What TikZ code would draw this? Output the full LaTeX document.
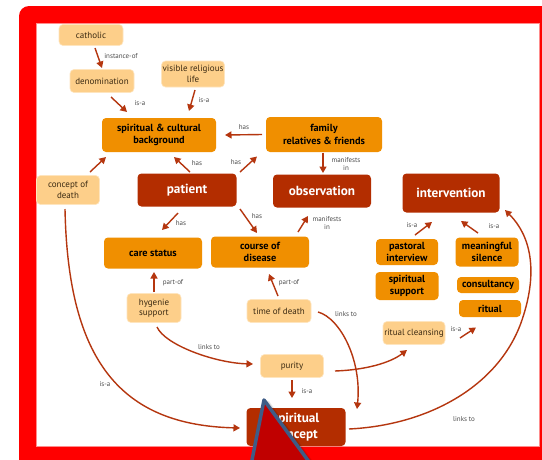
\documentclass[tikz,border=0pt]{standalone}
\usepackage{fontspec}
\setmainfont{PT Sans}
\usetikzlibrary{arrows.meta}

\definecolor{framered}{HTML}{FF0000}
\definecolor{pale}{HTML}{FDCF8A}
\definecolor{mid}{HTML}{F08F00}
\definecolor{deep}{HTML}{B32D00}
\definecolor{wire}{HTML}{B5360F}
\definecolor{ink}{HTML}{3B2A12}
\definecolor{trifill}{HTML}{C00000}
\definecolor{triedge}{HTML}{3E5C86}

\tikzset{
  box/.style={rounded corners=4pt, inner sep=1pt, align=center},
  dims/.style 2 args={minimum width=#1pt, minimum height=#2pt},
  palebox/.style={box, fill=pale, draw=pale!55!white, line width=0.6pt, text=ink,
                  font=\fontsize{9}{10.5}\selectfont},
  midbox/.style={box, fill=mid, text=black, font=\fontsize{10.3}{12.5}\selectfont\bfseries},
  deepbox/.style={box, fill=deep, text=white, font=\fontsize{13.2}{16}\selectfont\bfseries},
  link/.style={draw=wire, line width=1.4pt, -{Triangle[length=6.5pt,width=7pt]}},
  lab/.style={text=black!70, font=\fontsize{7}{8.5}\selectfont, align=center, inner sep=0pt},
}

\begin{document}
\begin{tikzpicture}[x=1pt,y=-1pt]
\clip (0,0) rectangle (542,459);
\useasboundingbox (0,0) rectangle (542,459);

% frame around the map
\fill[white] (0,0) rectangle (542,459);
\fill[framered, rounded corners=10pt] (19,6) rectangle (600,520);
\fill[white] (36,23) rectangle (539,446);
\draw[framered!45!white, line width=0.5pt] (36,23) rectangle (539,446);

% concepts
\node[palebox, dims={64}{21}] (catholic) at (91,35) {catholic};
\node[palebox, dims={64}{23}] (denom) at (102,81) {denomination};
\node[palebox, dims={63}{26}] (visible) at (193,74) {visible religious\\life};
\node[midbox, dims={114}{34}] (bg) at (159,135) {spiritual \& cultural\\background};
\node[midbox, dims={116}{35}] (family) at (324,134.5) {family\\relatives \& friends};
\node[palebox, dims={63}{29}] (death) at (68,190) {concept of\\death};
\node[deepbox, dims={99}{33}] (patient) at (187,190) {patient};
\node[deepbox, dims={98}{33}] (obs) at (322,191) {observation};
\node[deepbox, dims={97}{39}] (interv) at (451,193) {intervention};
\node[midbox, dims={98}{31}] (care) at (153,253) {care status};
\node[midbox, dims={98}{31}] (course) at (260,252) {course of\\disease};
\node[midbox, dims={62}{26}] (pastoral) at (407,252) {pastoral\\interview};
\node[midbox, dims={63}{28}] (spsupport) at (407,286) {spiritual\\support};
\node[midbox, dims={63}{29}] (silence) at (487,252) {meaningful\\silence};
\node[midbox, dims={62}{16}] (consult) at (488,285) {consultancy};
\node[midbox, dims={62}{17}] (ritual) at (490,308.5) {ritual};
\node[palebox, dims={54}{29}] (hygiene) at (154,308) {hygenie\\support};
\node[palebox, dims={64}{23}] (tod) at (279,311) {time of death};
\node[palebox, dims={62}{23}] (cleansing) at (414,333) {ritual cleansing};
\node[palebox, dims={63}{23}] (purity) at (292,366) {purity};
\node[deepbox, dims={99}{38}] (spconcept) at (296,427) {spiritual\\concept};

% straight links
\draw[link] ([shift={(4,13)}]catholic.center) -- ([shift={(0,-13)}]denom.center)
  node[lab] at (121,56) {instance-of};
\draw[link] ([shift={(9,16)}]denom.center) -- ([shift={(-32,-23)}]bg.center)
  node[lab] at (140,103) {is-a};
\draw[link] ([shift={(2,16)}]visible.center) -- ([shift={(30,-24)}]bg.center)
  node[lab] at (204,100) {is-a};
\draw[link] ([shift={(-62,0)}]family.center) -- ([shift={(66,0)}]bg.center)
  node[lab] at (244,127) {has};
\draw[link] ([shift={(3,-18)}]patient.center) -- ([shift={(15,22)}]bg.center)
  node[lab] at (197,163) {has};
\draw[link] ([shift={(53,-18)}]patient.center) -- ([shift={(-67,22)}]family.center)
  node[lab] at (236,162) {has};
\draw[link] ([shift={(22,-18)}]death.center) -- ([shift={(-53,22)}]bg.center);
\draw[link] ([shift={(-1,18)}]family.center) -- ([shift={(1,-18)}]obs.center)
  node[lab] at (346,164) {manifests\\in};
\draw[link] ([shift={(-9,23)}]patient.center) -- ([shift={(9,-23)}]care.center)
  node[lab] at (181,223) {has};
\draw[link] ([shift={(53,19)}]patient.center) -- ([shift={(-3,-19)}]course.center)
  node[lab] at (257,216) {has};
\draw[link] ([shift={(38,-20)}]course.center) -- ([shift={(-14,25)}]obs.center)
  node[lab] at (327,223) {manifests\\in};
\draw[link] ([shift={(8,-17)}]pastoral.center) -- ([shift={(-19,29)}]interv.center)
  node[lab] at (412,225) {is-a};
\draw[link] ([shift={(-9,-19)}]silence.center) -- ([shift={(10,28)}]interv.center)
  node[lab] at (494,226) {is-a};
\draw[link] ([shift={(0,-16)}]hygiene.center) -- ([shift={(1,19)}]care.center)
  node[lab] at (173,283) {part-of};
\draw[link] ([shift={(-1,-15)}]tod.center) -- ([shift={(9,22)}]course.center)
  node[lab] at (289,283) {part-of};
\draw[link] ([shift={(46,5)}]cleansing.center) -- ([shift={(-14,19)}]ritual.center)
  node[lab] at (456,329) {is-a};
\draw[link] ([shift={(0,14)}]purity.center) -- ([shift={(-4,-29)}]spconcept.center)
  node[lab] at (307,391) {is-a};

% curved links
\draw[link] ([shift={(39,1)}]tod.center) .. controls (340,318) and (362,360) ..
  ([shift={(61,-18)}]spconcept.center)
  node[lab] at (346,314) {links to};
\draw[link] ([shift={(3,19)}]hygiene.center) .. controls (165,345) and (215,363) ..
  ([shift={(-39,-2)}]purity.center)
  node[lab] at (209,347) {links to};
\draw[link] ([shift={(43,5)}]purity.center) .. controls (365,370) and (390,363) ..
  ([shift={(-7,17)}]cleansing.center);
\draw[link] ([shift={(-3,19)}]death.center) .. controls (68,360) and (120,425) ..
  ([shift={(-56,1)}]spconcept.center)
  node[lab] at (105,384) {is-a};
\draw[link] ([shift={(53,2)}]spconcept.center) .. controls (430,425) and (500,385) ..
  (522,320) .. controls (539,270) and (530,235) ..
  ([shift={(54,17)}]interv.center)
  node[lab] at (464,419) {links to};

% pointer triangle on top
\foreach \o in {1,2,3,4}
  \draw[black, opacity=0.05, line width=3pt, line join=round]
    ([shift={(\o,\o*0.5)}]264,400) -- ([shift={(\o,\o*0.5)}]315,470);
\filldraw[fill=trifill, draw=triedge, line width=3.5pt, line join=round]
  (264,400) -- (315,470) -- (250,470) -- cycle;
\end{tikzpicture}
\end{document}
